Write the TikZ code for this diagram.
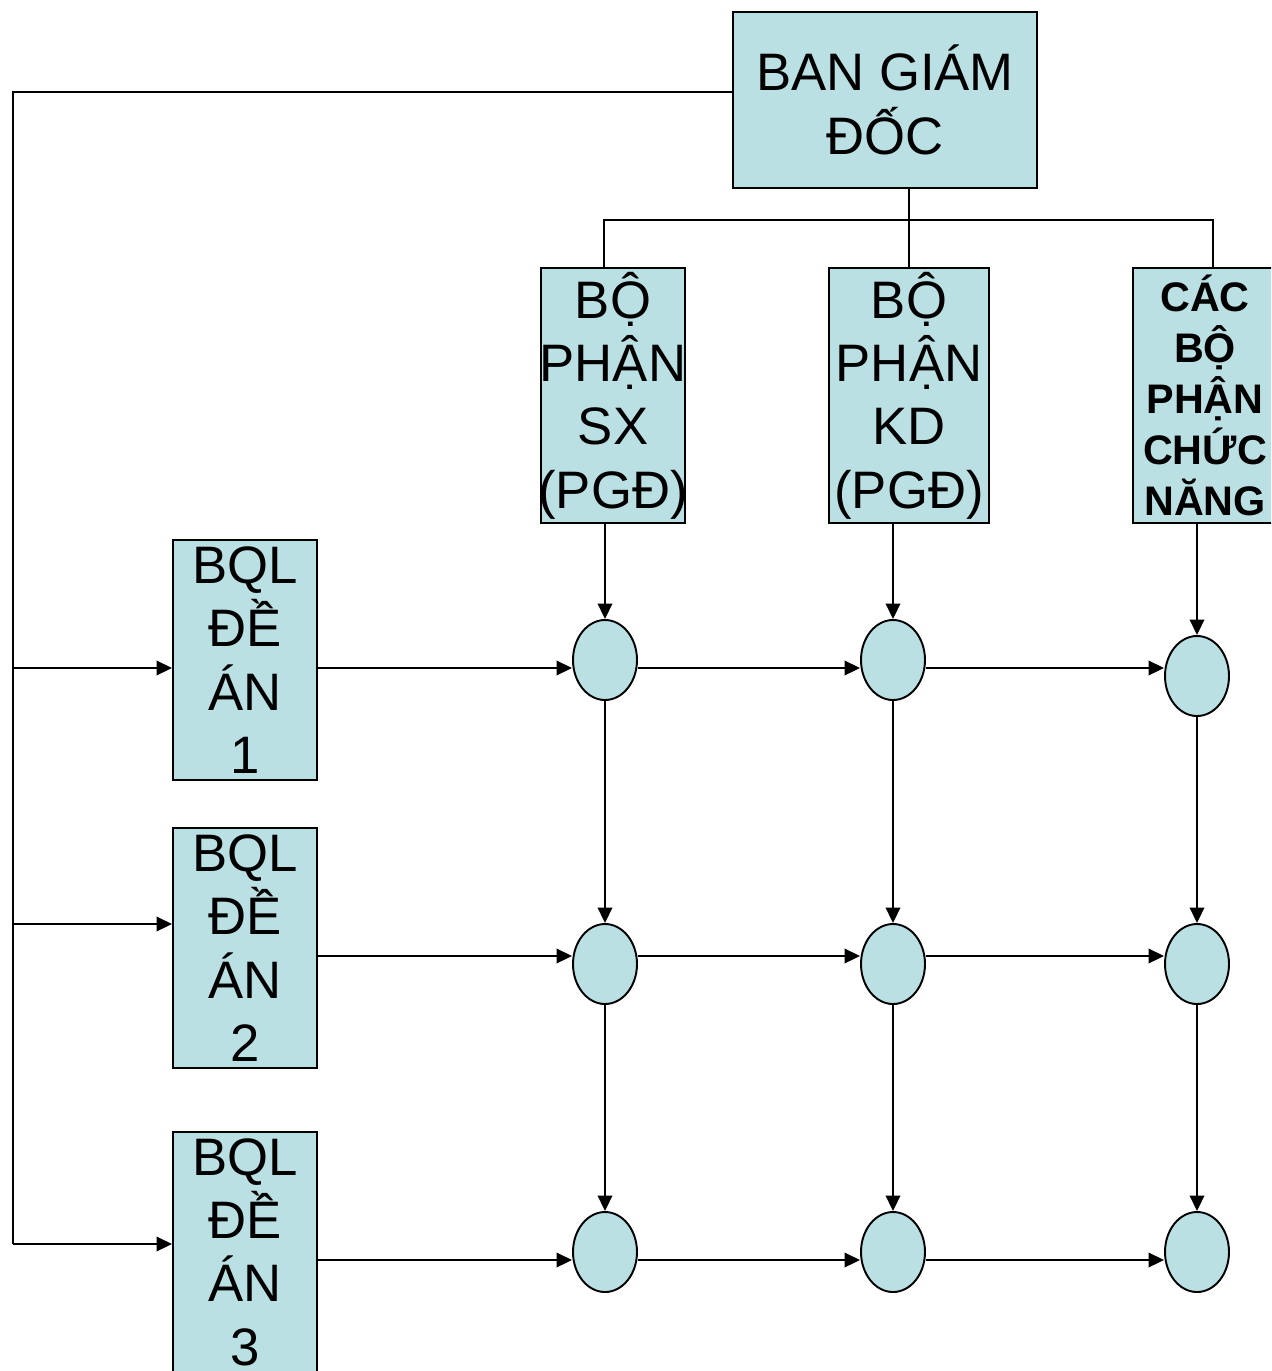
\documentclass[tikz,border=0pt]{standalone}
\usepackage{fontspec}
\setmainfont{Liberation Sans}
\usetikzlibrary{arrows.meta,positioning,shapes.geometric}
\definecolor{boxfill}{RGB}{187,224,227}

\begin{document}
\begin{tikzpicture}[
  box/.style={rectangle, draw=black, line width=1.1pt, fill=boxfill, inner sep=0pt, align=center, font=\fontsize{30}{36}\selectfont},
  boldbox/.style={box, font=\fontsize{23.5}{29}\selectfont\bfseries},
  dot/.style={ellipse, draw=black, line width=1.1pt, fill=boxfill, minimum width=1.28cm, minimum height=1.60cm, inner sep=0pt},
  link/.style={line width=1.1pt},
  arr/.style={line width=1.1pt, -{Triangle[length=0.31cm,width=0.29cm]}}
]
\clip (0,0) rectangle (25.42,-27.42);

\node[box, minimum width=6.08cm, minimum height=3.52cm] (bgd) at (17.70,-2.00) {BAN GIÁM\\ĐỐC};

\node[box, minimum width=2.88cm, minimum height=5.10cm] (sx) at (12.26,-7.91) {BỘ\\\makebox[0pt]{PHẬN}\\SX\\\makebox[0pt]{(PGĐ)}};
\node[box, minimum width=3.20cm, minimum height=5.10cm] (kd) at (18.18,-7.91) {BỘ\\PHẬN\\KD\\(PGĐ)};
\node[boldbox, minimum width=2.88cm, minimum height=5.10cm] (cn) at (24.10,-7.91) {CÁC\\BỘ\\PHẬN\\CHỨC\\NĂNG};

\node[box, minimum width=2.88cm, minimum height=4.80cm] (bql1) at (4.90,-13.20) {BQL\\ĐỀ\\ÁN\\1};
\node[box, minimum width=2.88cm, minimum height=4.80cm] (bql2) at (4.90,-18.96) {BQL\\ĐỀ\\ÁN\\2};
\node[box, minimum width=2.88cm, minimum height=4.80cm] (bql3) at (4.90,-25.04) {BQL\\ĐỀ\\ÁN\\3};

% matrix of project cells
\node[dot] (c11) at (12.10,-13.20) {};
\node[dot] (c12) at (17.86,-13.20) {};
\node[dot] (c13) at (23.94,-13.52) {};
\node[dot] (c21) at (12.10,-19.28) {};
\node[dot] (c22) at (17.86,-19.28) {};
\node[dot] (c23) at (23.94,-19.28) {};
\node[dot] (c31) at (12.10,-25.04) {};
\node[dot] (c32) at (17.86,-25.04) {};
\node[dot] (c33) at (23.94,-25.04) {};

% top bus
\coordinate (busL) at (12.08,-4.40);
\coordinate (busR) at (24.26,-4.40);
\draw[link] (kd.north |- bgd.south) -- (kd.north);
\draw[link] (busL |- sx.north) -- (busL) -- (busR) -- (busR |- cn.north);

% left spine
\coordinate (spine) at (0.26,-1.84);
\coordinate (in1) at ([yshift=-0.16cm]bql1.west);
\coordinate (in2) at ([yshift=0.48cm]bql2.west);
\coordinate (in3) at ([yshift=0.16cm]bql3.west);
\draw[link] (spine -| bgd.west) -- (spine) -- (spine |- in3);
\draw[arr] (spine |- in1) -- (in1);
\draw[arr] (spine |- in2) -- (in2);
\draw[arr] (spine |- in3) -- (in3);

% rows
\coordinate (r1) at (0,-13.36);
\coordinate (r2) at (0,-19.12);
\coordinate (r3) at (0,-25.20);
\draw[arr] (bql1.east |- r1) -- (c11.west |- r1);
\draw[arr] (c11.east |- r1) -- (c12.west |- r1);
\draw[arr] (c12.east |- r1) -- (c13.west |- r1);
\draw[arr] (bql2.east |- r2) -- (c21.west |- r2);
\draw[arr] (c21.east |- r2) -- (c22.west |- r2);
\draw[arr] (c22.east |- r2) -- (c23.west |- r2);
\draw[arr] (bql3.east |- r3) -- (c31.west |- r3);
\draw[arr] (c31.east |- r3) -- (c32.west |- r3);
\draw[arr] (c32.east |- r3) -- (c33.west |- r3);

% columns
\draw[arr] (c11 |- sx.south) -- (c11.north);
\draw[arr] (c12 |- kd.south) -- (c12.north);
\draw[arr] (c13 |- cn.south) -- (c13.north);
\foreach \c in {1,2,3} {
  \draw[arr] (c1\c.south) -- (c2\c.north);
  \draw[arr] (c2\c.south) -- (c3\c.north);
}
\end{tikzpicture}
\end{document}
